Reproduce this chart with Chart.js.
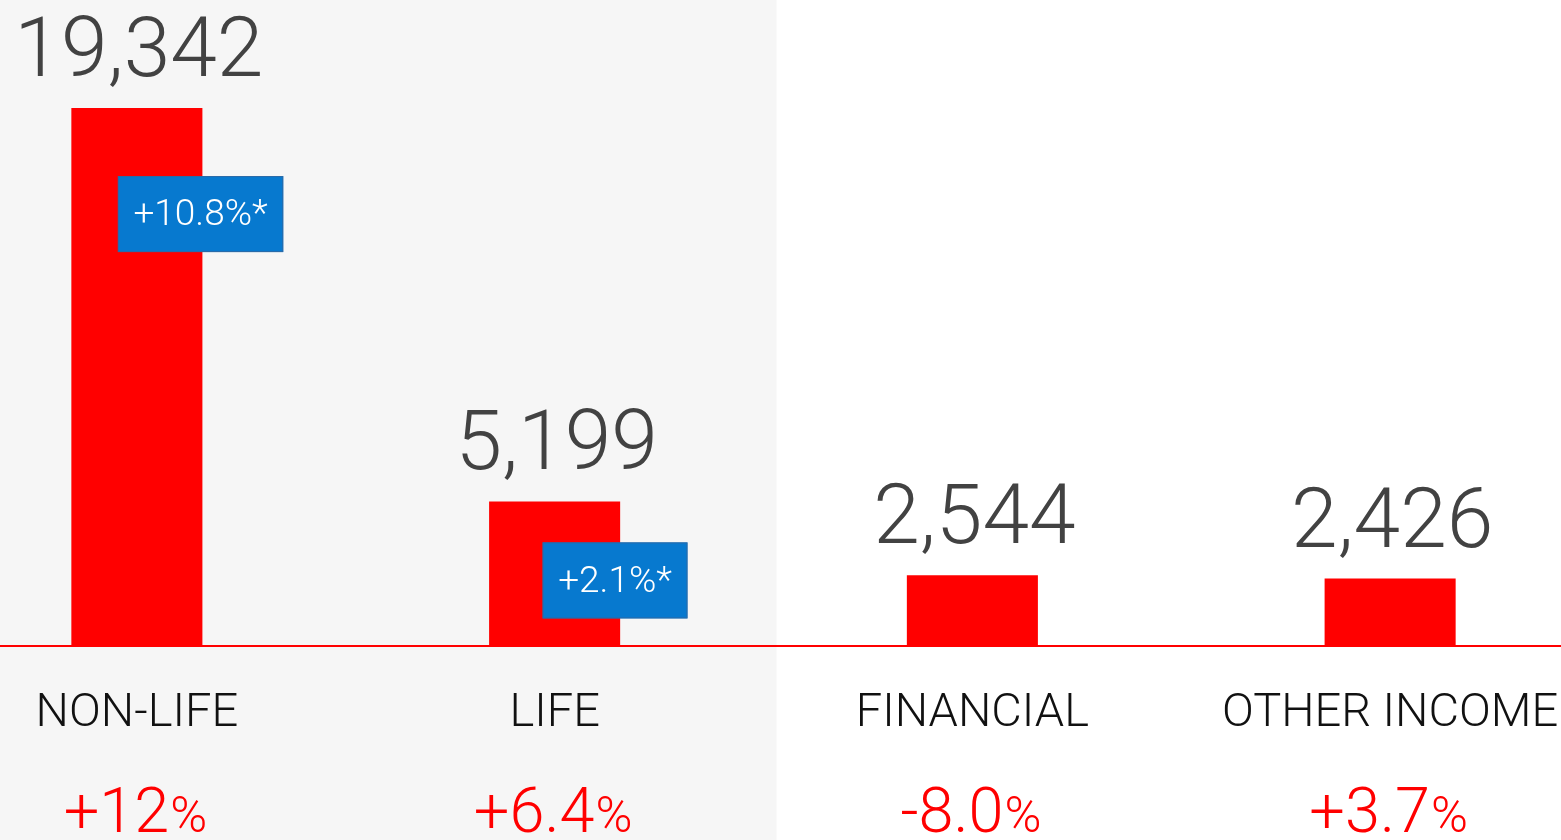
<!DOCTYPE html>
<html>
<head>
<meta charset="utf-8">
<script src="https://cdn.jsdelivr.net/npm/chart.js@4.4.0/dist/chart.umd.min.js"></script>
<style>
  html, body { margin: 0; padding: 0; background: #ffffff; overflow: hidden; width: 1561px; height: 840px; }
  #wrap { position: absolute; left: -72px; top: 0; width: 1671px; height: 840px; }
</style>
</head>
<body>
<div id="wrap"><canvas id="c"></canvas></div>
<script>
// ---- data ----
const categories = ['NON-LIFE', 'LIFE', 'FINANCIAL', 'OTHER INCOME'];
const values = [19342, 5199, 2544, 2426];
const valueLabels = ['19,342', '5,199', '2,544', '2,426'];
const changeNumbers = ['+12', '+6.4', '-8.0', '+3.7'];
const changeUnit = '%';
const badgeLabels = ['+10.8%*', '+2.1%*', null, null];

// ---- styling / layout (not data) ----
const FONT = 'Roboto, "Liberation Sans", sans-serif';
const badgeLayout = [{ dx: -19, dy: 68 }, { dx: -12, dy: 41 }];

const decorPlugin = {
  id: 'decor',
  beforeDraw(chart) {
    const { ctx, scales: { x } } = chart;
    const boundary = (x.getPixelForValue(1) + x.getPixelForValue(2)) / 2 + 13;
    ctx.save();
    ctx.fillStyle = '#f6f6f6';
    ctx.fillRect(0, 0, boundary, chart.height);
    ctx.restore();
  },
  afterDatasetsDraw(chart) {
    const { ctx, scales: { x } } = chart;
    const meta = chart.getDatasetMeta(0);
    ctx.save();
    meta.data.forEach((bar, i) => {
      // value labels above bars
      ctx.font = '300 84px ' + FONT;
      ctx.fillStyle = '#424242';
      ctx.textAlign = 'center';
      ctx.textBaseline = 'alphabetic';
      ctx.fillText(valueLabels[i], bar.x + 2, bar.y - 32);

      // blue badges
      if (badgeLabels[i]) {
        ctx.font = '300 37px ' + FONT;
        const tw = ctx.measureText(badgeLabels[i]).width;
        const w = tw + 31, h = 76;
        const left = bar.x + badgeLayout[i].dx;
        const top = bar.y + badgeLayout[i].dy;
        ctx.fillStyle = '#0779cf';
        ctx.fillRect(left, top, w, h);
        ctx.strokeStyle = '#2d6aa6';
        ctx.lineWidth = 1;
        ctx.strokeRect(left + 0.5, top + 0.5, w - 1, h - 1);
        ctx.fillStyle = '#ffffff';
        ctx.textAlign = 'center';
        ctx.textBaseline = 'middle';
        ctx.fillText(badgeLabels[i], left + w / 2, top + h / 2 + 2);
      }

      // change percentages under category labels
      const cx = x.getPixelForValue(i) - 2;
      ctx.textAlign = 'left';
      ctx.textBaseline = 'alphabetic';
      ctx.font = '300 63px ' + FONT;
      const w1 = ctx.measureText(changeNumbers[i]).width;
      ctx.font = '300 50px ' + FONT;
      const w2 = ctx.measureText(changeUnit).width;
      const start = cx - (w1 + w2) / 2;
      ctx.fillStyle = '#ff0000';
      ctx.font = '300 63px ' + FONT;
      ctx.fillText(changeNumbers[i], start, 832);
      ctx.font = '300 50px ' + FONT;
      ctx.fillText(changeUnit, start + w1 + 1, 832);
    });
    ctx.restore();
  }
};

new Chart(document.getElementById('c'), {
  type: 'bar',
  data: {
    labels: categories,
    datasets: [{
      data: values,
      backgroundColor: '#ff0000',
      borderWidth: 0,
      categoryPercentage: 1,
      barPercentage: 0.3137
    }]
  },
  options: {
    responsive: true,
    maintainAspectRatio: false,
    animation: false,
    layout: { padding: 0 },
    plugins: { legend: { display: false }, tooltip: { enabled: false } },
    scales: {
      x: {
        grid: { display: false, drawTicks: false },
        border: { display: true, color: '#ff0000', width: 2 },
        ticks: {
          color: '#111111',
          font: { family: FONT, size: 47, weight: '300' },
          padding: 40,
          labelOffset: 0,
          maxRotation: 0,
          autoSkip: false
        },
        afterFit(scale) {
          scale.height = 194;
          scale.paddingLeft = 0;
          scale.paddingRight = 0;
        }
      },
      y: {
        display: false,
        min: 0,
        max: 23228
      }
    }
  },
  plugins: [decorPlugin]
});
</script>
</body>
</html>
